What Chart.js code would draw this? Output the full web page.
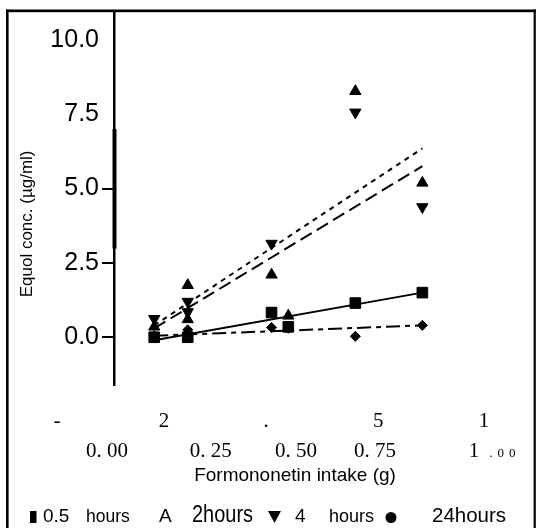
<!DOCTYPE html>
<html>
<head>
<meta charset="utf-8">
<script src="https://cdn.jsdelivr.net/npm/chart.js@4.4.1/dist/chart.umd.min.js"></script>
<style>
  html, body { margin: 0; padding: 0; background: #fff; }
  #wrap { position: relative; width: 538px; height: 528px; }
</style>
</head>
<body>
<div id="wrap"><canvas id="c" width="538" height="528"></canvas></div>
<script>
// ---------------- data ----------------
const seriesNames = ['0.5 hours', '2 hours', '4 hours', '24hours'];

const halfHourX = [0, 0.1, 0.35, 0.4, 0.6, 0.8];
const halfHourY = [0.0, 0.0, 0.83, 0.35, 1.15, 1.5];

const twoHourX = [0, 0.1, 0.1, 0.35, 0.4, 0.6, 0.8];
const twoHourY = [0.35, 1.75, 0.6, 2.1, 0.72, 8.27, 5.19];

const fourHourX = [0, 0.1, 0.1, 0.35, 0.6, 0.8];
const fourHourY = [0.62, 1.2, 0.85, 3.15, 7.56, 4.38];

const dayX = [0, 0.1, 0.35, 0.4, 0.6, 0.8];
const dayY = [0.05, 0.25, 0.33, 0.3, 0.03, 0.4];

// regression lines (end points)
const fitX = [0, 0.8];
const halfHourFit = [-0.1, 1.5];
const twoHourFit = [0.3, 5.75];
const fourHourFit = [0.4, 6.35];
const dayFit = [0.05, 0.4];

// axis ticks
const yTickValues = [0, 2.5, 5, 7.5, 10];
const yTickLabels = ['0.0', '2.5', '5.0', '7.5', '10.0'];
const xRow1Labels = ['-', '2', '.', '5', '1'];
const xRow1Pos = [-0.29, 0.029, 0.334, 0.668, 0.984];
const xRow2Labels = ['0. 00', '0. 25', '0. 50', '0. 75', '1 .00'];
const xRow2Pos = [-0.141, 0.169, 0.423, 0.659, 0.954];

const xTitle = 'Formononetin intake (g)';
const yTitle = 'Equol conc. (\u00b5g/ml)';

// ---------------- helpers ----------------
const pts = (xs, ys) => xs.map((x, i) => ({ x: x, y: ys[i] }));
const SANS = '"Liberation Sans", Arial, Helvetica, sans-serif';
const SERIF = '"Liberation Serif", "Times New Roman", "DejaVu Serif", serif';

const decor = {
  id: 'decor',
  beforeDraw(chart) {
    const ctx = chart.ctx;
    ctx.save();
    ctx.fillStyle = '#fff';
    ctx.fillRect(0, 0, chart.width, chart.height);
    ctx.restore();
  },
  afterDraw(chart) {
    const ctx = chart.ctx;
    const xs = chart.scales.x, ys = chart.scales.y;
    ctx.save();
    ctx.fillStyle = '#000';
    // frame
    ctx.fillRect(6, 9.5, 530, 2.7);
    ctx.fillRect(6, 9.5, 2.6, 528);
    ctx.fillRect(533.6, 9.5, 2.2, 528);
    // thick scan mark on the y axis
    const yA = ys.getPixelForValue(7.0), yB = ys.getPixelForValue(2.98);
    ctx.fillRect(xs.left - 1.5, yA, 4, yB - yA);

    // x label rows
    ctx.textBaseline = 'alphabetic';
    ctx.textAlign = 'center';
    ctx.font = '21px ' + SERIF;
    xRow1Labels.forEach((t, i) => ctx.fillText(t, xs.getPixelForValue(xRow1Pos[i]), 427));
    xRow2Labels.forEach((t, i) => {
      const px = xs.getPixelForValue(xRow2Pos[i]);
      const k = t.indexOf(' .');
      if (k < 0) {
        ctx.font = '21px ' + SERIF;
        ctx.textAlign = 'center';
        ctx.fillText(t, px, 457);
      } else {
        const big = t.slice(0, k), small = t.slice(k + 1);
        ctx.font = '21px ' + SERIF;
        ctx.textAlign = 'center';
        ctx.fillText(big, px, 457);
        const w = ctx.measureText(big).width;
        ctx.font = '13px ' + SERIF;
        ctx.textAlign = 'left';
        ctx.letterSpacing = '5px';
        ctx.fillText(small, px + w / 2 + 10, 457);
        ctx.letterSpacing = '0px';
      }
    });

    // y title
    ctx.save();
    ctx.translate(27, ys.getPixelForValue(3.81));
    ctx.rotate(-Math.PI / 2);
    ctx.textAlign = 'center';
    ctx.textBaseline = 'middle';
    ctx.font = '17px ' + SANS;
    ctx.fillText(yTitle, 0, 0);
    ctx.restore();

    // legend
    const base = 522;
    ctx.textAlign = 'left';
    ctx.textBaseline = 'alphabetic';
    // 0.5 hours
    ctx.fillRect(30, 511, 6.5, 12);
    ctx.font = '19px ' + SANS;
    ctx.fillText('0.5', 43, base);
    ctx.font = '17.5px ' + SANS;
    ctx.fillText('hours', 86, base);
    // 2 hours
    ctx.font = '19px ' + SANS;
    ctx.fillText('A', 159, base);
    ctx.save();
    ctx.font = '23px ' + SANS;
    const w2 = ctx.measureText('2hours').width;
    ctx.translate(192, base);
    ctx.scale(61 / w2, 1);
    ctx.fillText('2hours', 0, 0);
    ctx.restore();
    // 4 hours
    ctx.beginPath();
    ctx.moveTo(268, 511); ctx.lineTo(281, 511); ctx.lineTo(274.5, 523); ctx.closePath();
    ctx.fill();
    ctx.font = '19px ' + SANS;
    ctx.fillText('4', 295, base);
    ctx.font = '18px ' + SANS;
    ctx.fillText('hours', 329, base);
    // 24 hours
    ctx.beginPath();
    ctx.arc(391, 517.5, 5.5, 0, Math.PI * 2);
    ctx.fill();
    ctx.font = '20.5px ' + SANS;
    ctx.fillText('24hours', 432, base);
    ctx.restore();
  }
};

const pointBase = { backgroundColor: '#000', borderColor: '#000', showLine: false, borderWidth: 1 };
const lineBase = { borderColor: '#000', backgroundColor: '#000', showLine: true, pointRadius: 0, borderWidth: 2, fill: false };

new Chart(document.getElementById('c'), {
  type: 'scatter',
  data: {
    datasets: [
      Object.assign({ label: seriesNames[0], data: pts(halfHourX, halfHourY), pointStyle: 'rect', pointRadius: 7.5 }, pointBase),
      Object.assign({ label: seriesNames[1], data: pts(twoHourX, twoHourY), pointStyle: 'triangle', pointRadius: 6.5 }, pointBase),
      Object.assign({ label: seriesNames[2], data: pts(fourHourX, fourHourY), pointStyle: 'triangle', pointRotation: 180, pointRadius: 6.5 }, pointBase),
      Object.assign({ label: seriesNames[3], data: pts(dayX, dayY), pointStyle: 'rectRot', pointRadius: 5 }, pointBase),
      Object.assign({ label: seriesNames[0] + ' fit', data: pts(fitX, halfHourFit) }, lineBase),
      Object.assign({ label: seriesNames[1] + ' fit', data: pts(fitX, twoHourFit), borderDash: [13, 6] }, lineBase),
      Object.assign({ label: seriesNames[2] + ' fit', data: pts(fitX, fourHourFit), borderDash: [5, 5] }, lineBase),
      Object.assign({ label: seriesNames[3] + ' fit', data: pts(fitX, dayFit), borderDash: [14, 5, 5, 5] }, lineBase)
    ]
  },
  options: {
    responsive: false,
    animation: false,
    devicePixelRatio: 1,
    layout: { padding: { left: 0, right: 62, top: 11, bottom: 0 } },
    plugins: { legend: { display: false }, tooltip: { enabled: false } },
    scales: {
      x: {
        type: 'linear',
        min: -0.12,
        max: 0.96,
        grid: { display: false },
        border: { display: false },
        ticks: { display: false },
        title: {
          display: true,
          text: xTitle,
          color: '#000',
          font: { family: SANS, size: 19 },
          padding: { top: 0, bottom: 41 }
        },
        afterFit(scale) { scale.height = 143; }
      },
      y: {
        type: 'linear',
        min: -1.605,
        max: 10.9,
        afterBuildTicks(scale) { scale.ticks = yTickValues.map(v => ({ value: v })); },
        afterFit(scale) { scale.width = 114; },
        ticks: {
          color: '#000',
          padding: 3,
          font: { family: SANS, size: 25, lineHeight: 0.8 },
          callback: (v, i) => yTickLabels[i]
        },
        grid: {
          drawOnChartArea: false,
          drawTicks: true,
          tickLength: 12,
          lineWidth: 2,
          tickColor: (ctx) => (ctx.tick && ctx.tick.value >= 7.5 ? 'rgba(0,0,0,0)' : '#000')
        },
        border: { display: true, color: '#000', width: 2.5 },
        title: { display: false }
      }
    }
  },
  plugins: [decor]
});
</script>
</body>
</html>
